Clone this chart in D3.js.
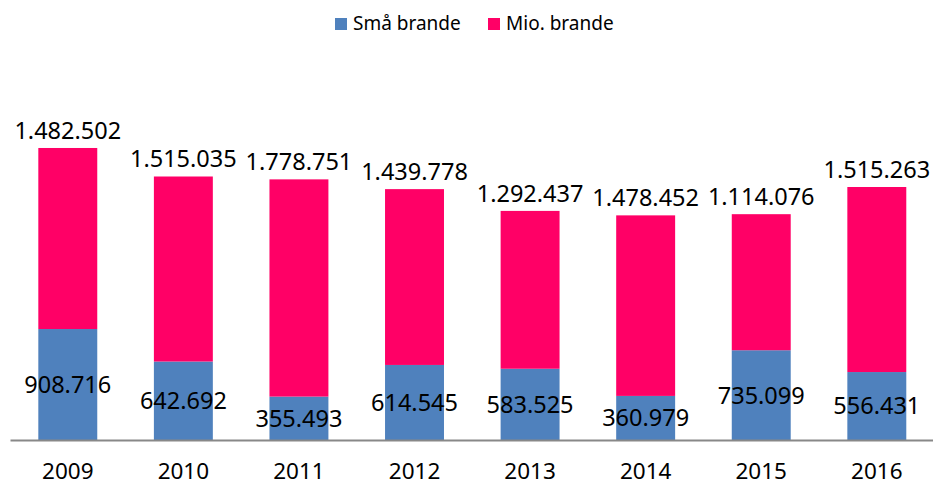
<!DOCTYPE html>
<html>
<head>
<meta charset="utf-8">
<script src="https://cdn.jsdelivr.net/npm/d3@7"></script>
<style>
	body { margin: 0; background: #fff; }
	text { font-family: "Noto Sans", sans-serif; fill: #000; }
</style>
</head>
<body>
<div id="chart"></div>
<script>
var years = ["2009", "2010", "2011", "2012", "2013", "2014", "2015", "2016"]
var smaaBrande = [908716, 642692, 355493, 614545, 583525, 360979, 735099, 556431]
var mioBrande = [1482502, 1515035, 1778751, 1439778, 1292437, 1478452, 1114076, 1515263]
var seriesNames = ["Små brande", "Mio. brande"]
var seriesColors = ["#4F81BD", "#FF0066"]

;(function() {
	var width = 933
	var height = 486
	var baseline = 440

	var svg = d3.select("#chart")
		.append("svg")
		.attr("width", width)
		.attr("height", height)

	// dot as thousands separator, like the original
	var fmt = function(v) {
		return d3.format(",")(v).replace(/,/g, ".")
	}

	var x = d3.scaleBand()
		.domain(years)
		.range([10, 934.6])
		.paddingInner(0.49)
		.paddingOuter(0.245)

	var y = d3.scaleLinear()
		.domain([0, 2500000])
		.range([baseline, baseline - 305.3])

	var rows = years.map(function(yr, i) {
		return { year: yr, small: smaaBrande[i], mio: mioBrande[i] }
	})

	var stack = d3.stack().keys(["small", "mio"])
	var layers = stack(rows)

	var g = svg.selectAll(".layer")
		.data(layers)
		.enter().append("g")
		.attr("class", "layer")
		.attr("fill", function(d, i) { return seriesColors[i] })

	g.selectAll("rect")
		.data(function(d) { return d })
		.enter().append("rect")
		.attr("x", function(d) { return x(d.data.year) })
		.attr("y", function(d) { return y(d[1]) })
		.attr("width", x.bandwidth())
		.attr("height", function(d) { return y(d[0]) - y(d[1]) })

	// axis
	var axis = svg.append("g")
		.attr("transform", "translate(0," + baseline + ")")
		.call(d3.axisBottom(x).tickSize(0).tickSizeOuter(0).tickPadding(23))

	axis.select(".domain")
		.attr("stroke", "#888")
		.attr("stroke-width", 2)

	axis.selectAll("text")
		.style("font-family", "'Noto Sans', sans-serif")
		.style("font-size", "22.5px")
		.attr("fill", "#000")

	// labels in the blue part
	svg.selectAll(".lbl-small")
		.data(layers[0])
		.enter().append("text")
		.attr("class", "lbl-small")
		.attr("x", function(d) { return x(d.data.year) + x.bandwidth() / 2 })
		.attr("y", function(d) { return (y(d[0]) + y(d[1])) / 2 })
		.attr("dy", "0.36em")
		.attr("text-anchor", "middle")
		.style("font-size", "23.5px")
		.text(function(d) { return fmt(d.data.small) })

	// labels above the pink part
	svg.selectAll(".lbl-mio")
		.data(layers[1])
		.enter().append("text")
		.attr("class", "lbl-mio")
		.attr("x", function(d) { return x(d.data.year) + x.bandwidth() / 2 })
		.attr("y", function(d) { return y(d[1]) - 9 })
		.attr("text-anchor", "middle")
		.style("font-size", "23.5px")
		.text(function(d) { return fmt(d.data.mio) })

	// legend
	var legend = svg.append("g")
		.attr("transform", "translate(335,18)")

	var item = legend.selectAll(".item")
		.data(seriesNames)
		.enter().append("g")
		.attr("class", "item")
		.attr("transform", function(d, i) { return "translate(" + (i * 153) + ",0)" })

	item.append("rect")
		.attr("width", 12)
		.attr("height", 12)
		.attr("fill", function(d, i) { return seriesColors[i] })

	item.append("text")
		.attr("x", 18)
		.attr("y", 11.5)
		.style("font-size", "19px")
		.text(function(d) { return d })
})();
</script>
</body>
</html>
